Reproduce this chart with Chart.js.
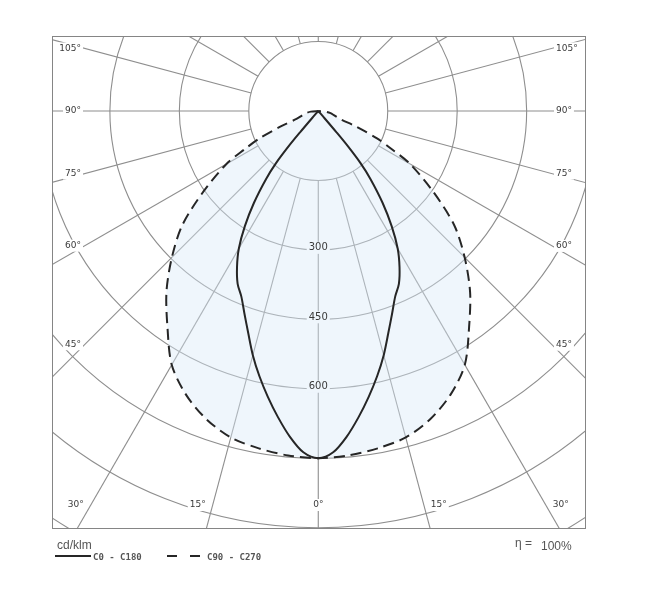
<!DOCTYPE html>
<html>
<head>
<meta charset="utf-8">
<script src="https://cdn.jsdelivr.net/npm/chart.js@4"></script>
<style>
  html, body { margin: 0; padding: 0; background: #fff; }
</style>
</head>
<body>
<canvas id="polar" width="648" height="606"></canvas>
<script>
// luminous intensity curves, angle from nadir (deg) -> cd/klm
const c0Angles = [0, 2.5, 5, 7.5, 10, 12.5, 15, 17.5, 20, 22.5, 25, 27.5, 30, 32.5, 35, 37.5, 39, 40, 40.5, 41, 42];
const c0Values = [750, 738, 706, 667, 627, 587, 546, 503, 466, 434, 412, 380, 343, 295, 242, 185, 145, 100, 60, 20, 0];

const c90Angles = [0, 5, 10, 15, 20, 25, 30, 35, 40, 45, 50, 55, 60, 62.5, 65, 67.5, 70, 75, 80, 85, 90];
const c90Values = [750, 747, 740, 730, 708, 676, 633, 568, 510, 447, 383, 302, 229, 180, 140, 90, 50, 35, 27, 16, 0];

// grid
const rings = [150, 300, 450, 600, 750, 900, 1050];
const ringLabels = [300, 450, 600];
const spokeStep = 15;
const sideTicks = [45, 60, 75, 90, 105];
const bottomTicks = [0, 15, 30];

const lineColor = '#262626';
const gridColor = '#8e8e8e';
const fillColor = 'rgba(218,234,248,0.42)';
const labelBg = '#eff6fc';

// turn one half-curve into a closed symmetric outline (left side then right side)
function mirror(angles, values) {
  const pts = [];
  for (let i = angles.length - 1; i >= 0; i--) {
    const t = -angles[i] * Math.PI / 180;
    pts.push({ x: values[i] * Math.sin(t), y: -values[i] * Math.cos(t) });
  }
  for (let i = 1; i < angles.length; i++) {
    const t = angles[i] * Math.PI / 180;
    pts.push({ x: values[i] * Math.sin(t), y: -values[i] * Math.cos(t) });
  }
  return pts;
}

function labelBox(ctx, text, x, y, align, bg) {
  const w = ctx.measureText(text).width;
  let left = x;
  if (align === 'center') left = x - w / 2;
  if (align === 'right') left = x - w;
  ctx.fillStyle = bg;
  ctx.fillRect(left - 2, y - 6, w + 4, 12);
  ctx.fillStyle = '#3a3a3a';
  ctx.textAlign = align;
  ctx.fillText(text, x, y);
}

const polarGrid = {
  id: 'polarGrid',
  beforeDatasetsDraw(chart) {
    const { ctx, chartArea: a, scales: { x, y } } = chart;
    const cx = x.getPixelForValue(0), cy = y.getPixelForValue(0);
    const inner = x.getPixelForValue(rings[0]) - cx;
    ctx.save();
    ctx.beginPath();
    ctx.rect(a.left, a.top, a.right - a.left, a.bottom - a.top);
    ctx.clip();
    ctx.strokeStyle = gridColor;
    ctx.lineWidth = 1.1;
    rings.forEach(r => {
      ctx.beginPath();
      ctx.arc(cx, cy, x.getPixelForValue(r) - cx, 0, Math.PI * 2);
      ctx.stroke();
    });
    for (let d = 0; d < 360; d += spokeStep) {
      const t = d * Math.PI / 180;
      ctx.beginPath();
      ctx.moveTo(cx + Math.sin(t) * inner, cy + Math.cos(t) * inner);
      ctx.lineTo(cx + Math.sin(t) * 1500, cy + Math.cos(t) * 1500);
      ctx.stroke();
    }
    ctx.restore();
  },
  afterDatasetsDraw(chart) {
    const { ctx, chartArea: a, scales: { x, y } } = chart;
    const cx = x.getPixelForValue(0), cy = y.getPixelForValue(0);
    ctx.save();
    ctx.textBaseline = 'middle';

    // intensity values along the 0 deg line
    ctx.font = '10px "DejaVu Sans"';
    ringLabels.forEach(v => {
      labelBox(ctx, String(v), cx, y.getPixelForValue(-v) - 2, 'center', labelBg);
    });

    // angle labels on the sides
    ctx.font = '9px "DejaVu Sans"';
    sideTicks.forEach(d => {
      const t = d * Math.PI / 180;
      [-1, 1].forEach(s => {
        const edge = s < 0 ? a.left + 33 : a.right - 33;
        const k = Math.abs(edge - cx) / Math.sin(t);
        const py = cy + k * Math.cos(t);
        if (s < 0) labelBox(ctx, d + '°', a.left + 29, py, 'right', '#fff');
        else labelBox(ctx, d + '°', a.right - 29, py, 'left', '#fff');
      });
    });

    // angle labels along the bottom
    const by = a.bottom - 24;
    bottomTicks.forEach(d => {
      const t = d * Math.PI / 180;
      const k = (by - cy) / Math.cos(t);
      const off = k * Math.sin(t);
      if (d === 0) {
        labelBox(ctx, d + '°', cx, by, 'center', '#fff');
      } else {
        labelBox(ctx, d + '°', cx - off - 7, by, 'right', '#fff');
        labelBox(ctx, d + '°', cx + off + 7, by, 'left', '#fff');
      }
    });

    // frame
    ctx.strokeStyle = '#858585';
    ctx.lineWidth = 1;
    ctx.strokeRect(a.left + 0.5, a.top + 0.5, a.right - a.left, a.bottom - a.top - 1);
    ctx.restore();
  },
  afterDraw(chart) {
    const { ctx, chartArea: a } = chart;
    ctx.save();
    ctx.fillStyle = '#555';
    ctx.textBaseline = 'alphabetic';
    ctx.textAlign = 'left';
    ctx.font = '12px "Liberation Sans", Arial, sans-serif';
    ctx.fillText('cd/klm', a.left + 5, a.bottom + 20);

    ctx.strokeStyle = lineColor;
    ctx.lineWidth = 2;
    ctx.beginPath();
    ctx.moveTo(a.left + 3, a.bottom + 27);
    ctx.lineTo(a.left + 39, a.bottom + 27);
    ctx.stroke();
    ctx.setLineDash([10, 13]);
    ctx.beginPath();
    ctx.moveTo(a.left + 115, a.bottom + 27);
    ctx.lineTo(a.left + 148, a.bottom + 27);
    ctx.stroke();
    ctx.setLineDash([]);

    ctx.font = 'bold 9px "DejaVu Sans Mono", monospace';
    ctx.fillStyle = '#555';
    ctx.fillText('C0 - C180', a.left + 41, a.bottom + 31);
    ctx.fillText('C90 - C270', a.left + 155, a.bottom + 31);

    ctx.font = '12px "Liberation Sans", Arial, sans-serif';
    ctx.fillText('η =', a.right - 70, a.bottom + 18);
    ctx.fillText('100%', a.right - 44, a.bottom + 21);
    ctx.restore();
  }
};

new Chart(document.getElementById('polar'), {
  type: 'scatter',
  data: {
    datasets: [
      {
        label: 'C0 - C180',
        data: mirror(c0Angles, c0Values),
        showLine: true,
        borderColor: lineColor,
        borderWidth: 2,
        pointRadius: 0,
        tension: 0.3,
        fill: false
      },
      {
        label: 'C90 - C270',
        data: mirror(c90Angles, c90Values),
        showLine: true,
        borderColor: lineColor,
        borderWidth: 2,
        borderDash: [11, 6],
        pointRadius: 0,
        tension: 0.3,
        fill: 'shape',
        backgroundColor: fillColor
      }
    ]
  },
  options: {
    responsive: false,
    animation: false,
    layout: { padding: { left: 52, right: 63, top: 36, bottom: 77 } },
    scales: {
      x: { type: 'linear', min: -575, max: 576, display: false },
      y: { type: 'linear', min: -903, max: 162, display: false }
    },
    plugins: {
      legend: { display: false },
      tooltip: { enabled: false }
    }
  },
  plugins: [polarGrid]
});
</script>
</body>
</html>
